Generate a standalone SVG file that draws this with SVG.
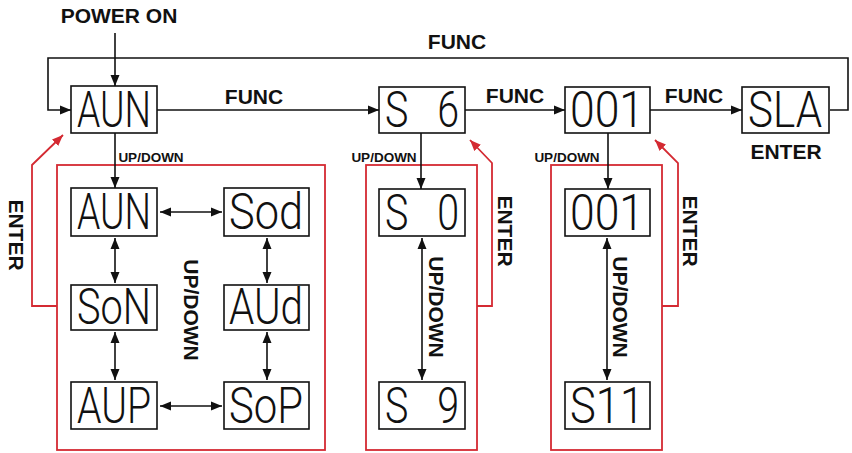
<svg xmlns="http://www.w3.org/2000/svg" width="852" height="453" viewBox="0 0 852 453">
<style>
.bg{fill:#fff}
.box{fill:#fff;stroke:#111;stroke-width:1.6}
.seg{font-family:Roboto,"DejaVu Sans",sans-serif;font-weight:300;font-size:50px;fill:#111;text-anchor:middle;white-space:pre}
.lbl{font-family:"Liberation Sans",Arial,sans-serif;font-weight:bold;font-size:21px;fill:#111;text-anchor:middle}
.sm{font-family:"Liberation Sans",Arial,sans-serif;font-weight:bold;font-size:13.5px;fill:#111;text-anchor:middle}
.ln{fill:none;stroke:#111;stroke-width:1.6}
.rd{fill:none;stroke:#d42a32;stroke-width:1.8}
</style>
<defs>
<marker id="ah" markerUnits="userSpaceOnUse" markerWidth="12" markerHeight="10" refX="11" refY="5" orient="auto-start-reverse" viewBox="0 0 12 10"><path d="M0,0.5 L11,5 L0,9.5 Z" fill="#111"/></marker>
<marker id="ahr" markerUnits="userSpaceOnUse" markerWidth="12" markerHeight="10" refX="11" refY="5" orient="auto" viewBox="0 0 12 10"><path d="M0,0.5 L11,5 L0,9.5 Z" fill="#d42a32"/></marker>
</defs>
<rect class="bg" x="0" y="0" width="852" height="453"/>

<g id="groups">
<rect class="rd" x="57" y="165" width="268" height="285"/>
<rect class="rd" x="366" y="165" width="111" height="285"/>
<rect class="rd" x="551" y="165" width="111" height="285"/>
</g>

<g id="connectors">
<path class="ln" d="M115,33 V86" marker-end="url(#ah)"/>
<path class="ln" d="M830,110 H848 V58 H48 V110 H71" marker-end="url(#ah)"/>
<path class="ln" d="M157,110 H379" marker-end="url(#ah)"/>
<path class="ln" d="M465,110 H565" marker-end="url(#ah)"/>
<path class="ln" d="M650,110 H742" marker-end="url(#ah)"/>
<path class="ln" d="M115,133 V188" marker-end="url(#ah)"/>
<path class="ln" d="M421,133 V189" marker-end="url(#ah)"/>
<path class="ln" d="M608,133 V189" marker-end="url(#ah)"/>
<path class="ln" d="M160,212 H222" marker-start="url(#ah)" marker-end="url(#ah)"/>
<path class="ln" d="M160,406 H222" marker-start="url(#ah)" marker-end="url(#ah)"/>
<path class="ln" d="M115,238 V283" marker-start="url(#ah)" marker-end="url(#ah)"/>
<path class="ln" d="M115,332 V380" marker-start="url(#ah)" marker-end="url(#ah)"/>
<path class="ln" d="M267,238 V283" marker-start="url(#ah)" marker-end="url(#ah)"/>
<path class="ln" d="M267,332 V380" marker-start="url(#ah)" marker-end="url(#ah)"/>
<path class="ln" d="M422,238 V380" marker-start="url(#ah)" marker-end="url(#ah)"/>
<path class="ln" d="M607,238 V380" marker-start="url(#ah)" marker-end="url(#ah)"/>
<path class="rd" d="M57,306 H32 V165 L63,135" marker-end="url(#ahr)"/>
<path class="rd" d="M477,306 H492 V163 L470,140" marker-end="url(#ahr)"/>
<path class="rd" d="M662,306 H678 V163 L655,140" marker-end="url(#ahr)"/>
</g>

<g id="labels">
<text class="lbl" x="119" y="23">POWER ON</text>
<text class="lbl" x="457" y="49">FUNC</text>
<text class="lbl" x="254" y="104">FUNC</text>
<text class="lbl" x="515" y="103">FUNC</text>
<text class="lbl" x="694" y="103">FUNC</text>
<text class="lbl" x="786" y="159">ENTER</text>
<text class="sm" x="151" y="162">UP/DOWN</text>
<text class="sm" x="384" y="162">UP/DOWN</text>
<text class="sm" x="567" y="162">UP/DOWN</text>
<text class="lbl" transform="translate(9,235) rotate(90)">ENTER</text>
<text class="lbl" transform="translate(184,310) rotate(90)">UP/DOWN</text>
<text class="lbl" transform="translate(429,307) rotate(90)">UP/DOWN</text>
<text class="lbl" transform="translate(498,231) rotate(90)">ENTER</text>
<text class="lbl" transform="translate(613,307) rotate(90)">UP/DOWN</text>
<text class="lbl" transform="translate(683,231) rotate(90)">ENTER</text>
</g>

<g id="n-aun"><rect class="box" x="71" y="86" width="86" height="47"/><text class="seg" x="114" y="127" textLength="74" lengthAdjust="spacingAndGlyphs">AUN</text></g>
<g id="n-s6"><rect class="box" x="379" y="87" width="86" height="46"/><text class="seg" x="422" y="127" textLength="74" lengthAdjust="spacingAndGlyphs" xml:space="preserve">S   6</text></g>
<g id="n-001"><rect class="box" x="565" y="87" width="85" height="46"/><text class="seg" x="607" y="127" textLength="74" lengthAdjust="spacingAndGlyphs">001</text></g>
<g id="n-sla"><rect class="box" x="742" y="87" width="87" height="46"/><text class="seg" x="785" y="127" textLength="74" lengthAdjust="spacingAndGlyphs">SLA</text></g>
<g id="n-aun2"><rect class="box" x="71" y="188" width="86" height="48"/><text class="seg" x="114" y="229" textLength="74" lengthAdjust="spacingAndGlyphs">AUN</text></g>
<g id="n-sod"><rect class="box" x="224" y="188" width="85" height="48"/><text class="seg" x="266" y="229" textLength="74" lengthAdjust="spacingAndGlyphs">Sod</text></g>
<g id="n-son"><rect class="box" x="71" y="285" width="86" height="45"/><text class="seg" x="114" y="324" textLength="74" lengthAdjust="spacingAndGlyphs">SoN</text></g>
<g id="n-aud"><rect class="box" x="224" y="285" width="85" height="45"/><text class="seg" x="266" y="324" textLength="74" lengthAdjust="spacingAndGlyphs">AUd</text></g>
<g id="n-aup"><rect class="box" x="71" y="382" width="86" height="47"/><text class="seg" x="114" y="423" textLength="74" lengthAdjust="spacingAndGlyphs">AUP</text></g>
<g id="n-sop"><rect class="box" x="224" y="382" width="85" height="47"/><text class="seg" x="266" y="423" textLength="74" lengthAdjust="spacingAndGlyphs">SoP</text></g>
<g id="n-s0"><rect class="box" x="379" y="189" width="86" height="47"/><text class="seg" x="422" y="230" textLength="74" lengthAdjust="spacingAndGlyphs" xml:space="preserve">S   0</text></g>
<g id="n-s9"><rect class="box" x="379" y="382" width="86" height="47"/><text class="seg" x="422" y="423" textLength="74" lengthAdjust="spacingAndGlyphs" xml:space="preserve">S   9</text></g>
<g id="n-0012"><rect class="box" x="565" y="189" width="85" height="47"/><text class="seg" x="607" y="230" textLength="74" lengthAdjust="spacingAndGlyphs">001</text></g>
<g id="n-s11"><rect class="box" x="565" y="382" width="85" height="47"/><text class="seg" x="607" y="423" textLength="74" lengthAdjust="spacingAndGlyphs">S11</text></g>
</svg>
